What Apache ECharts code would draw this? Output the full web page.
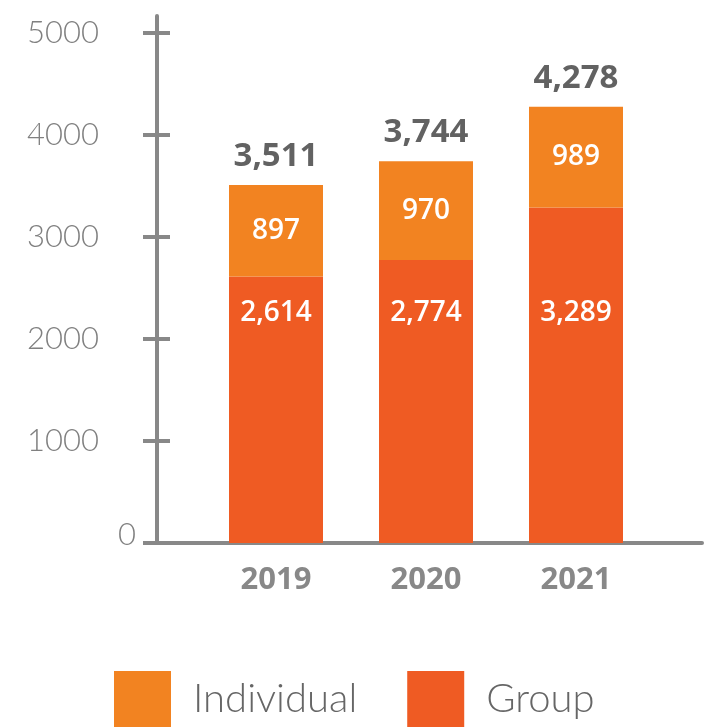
<!DOCTYPE html>
<html>
<head>
<meta charset="utf-8">
<script src="https://cdn.jsdelivr.net/npm/echarts@6/dist/echarts.min.js"></script>
<style>
html,body{margin:0;padding:0;background:#fff;}
#chart{width:704px;height:727px;}
</style>
</head>
<body>
<div id="chart"></div>
<script>
const categories = ['2019', '2020', '2021'];
const individualValues = [897, 970, 989];
const groupValues = [2614, 2774, 3289];
const totalValues = [3511, 3744, 4278];
const yTickValues = [0, 1000, 2000, 3000, 4000, 5000];

const fmt = v => Number(v).toLocaleString('en-US');
const AX = '#888888';
const yMax = 5167;

const chart = echarts.init(document.getElementById('chart'), null, {renderer: 'canvas'});
chart.setOption({
  animation: false,
  backgroundColor: '#ffffff',
  grid: [
    {left: 157, right: 2, top: 16, bottom: 184},
    {left: 201, right: 53, top: 16, bottom: 184}
  ],
  legend: {
    data: ['Individual', 'Group'],
    left: 114, top: 671, padding: 0,
    icon: 'rect',
    itemWidth: 57, itemHeight: 56,
    itemGap: 50,
    textStyle: {fontFamily: 'Lato', fontWeight: 300, fontSize: 40, color: '#666666', padding: [0, 0, 0, 17]}
  },
  xAxis: [
    {gridIndex: 0, type: 'category', data: categories,
     axisLine: {show: true, lineStyle: {color: AX, width: 4}},
     axisTick: {show: false}, axisLabel: {show: false}, splitLine: {show: false}},
    {gridIndex: 1, type: 'category', data: categories,
     axisLine: {show: false}, axisTick: {show: false},
     axisLabel: {margin: 22, fontFamily: 'Open Sans', fontWeight: 700, fontSize: 31, color: AX}}
  ],
  yAxis: [
    {gridIndex: 0, type: 'value', min: 0, max: yMax, position: 'left',
     axisLine: {show: true, lineStyle: {color: AX, width: 4}},
     axisTick: {show: true, length: 14, inside: false, customValues: yTickValues, lineStyle: {color: AX, width: 4}},
     axisLabel: {customValues: yTickValues.slice(1), formatter: v => String(v), margin: 58,
                 fontFamily: 'Lato', fontWeight: 300, fontSize: 31, color: '#808080'},
     splitLine: {show: false}},
    {gridIndex: 0, type: 'value', min: 0, max: yMax, position: 'left', offset: 0,
     axisLine: {show: false},
     axisTick: {show: true, length: 13, inside: true, customValues: yTickValues, lineStyle: {color: AX, width: 4}},
     axisLabel: {customValues: [yTickValues[0]], formatter: v => String(v), margin: 21,
                 fontFamily: 'Lato', fontWeight: 300, fontSize: 31, color: '#808080',
                 verticalAlign: 'bottom', lineHeight: 16},
     splitLine: {show: false}},
    {gridIndex: 1, type: 'value', min: 0, max: yMax, show: false, splitLine: {show: false}}
  ],
  series: [
    {name: 'Group', type: 'bar', stack: 'total', xAxisIndex: 1, yAxisIndex: 2,
     barWidth: 94, data: groupValues, itemStyle: {color: '#EF5B23'},
     label: {show: true, position: 'insideBottom', distance: 216, formatter: p => fmt(p.value),
             fontFamily: 'Open Sans', fontWeight: 600, fontSize: 28, color: '#ffffff'}},
    {name: 'Individual', type: 'bar', stack: 'total', xAxisIndex: 1, yAxisIndex: 2,
     barWidth: 94, data: individualValues, itemStyle: {color: '#F28321'},
     label: {show: true, position: 'inside', formatter: p => fmt(p.value),
             fontFamily: 'Open Sans', fontWeight: 600, fontSize: 28, color: '#ffffff'}},
    {name: 'Total', type: 'bar', stack: 'total', xAxisIndex: 1, yAxisIndex: 2,
     barWidth: 94, data: totalValues.map(() => 0), itemStyle: {color: 'rgba(0,0,0,0)'},
     label: {show: true, position: 'top', distance: 12, formatter: p => fmt(totalValues[p.dataIndex]),
             fontFamily: 'Open Sans', fontWeight: 700, fontSize: 33, color: '#626262'}}
  ]
});
</script>
</body>
</html>
